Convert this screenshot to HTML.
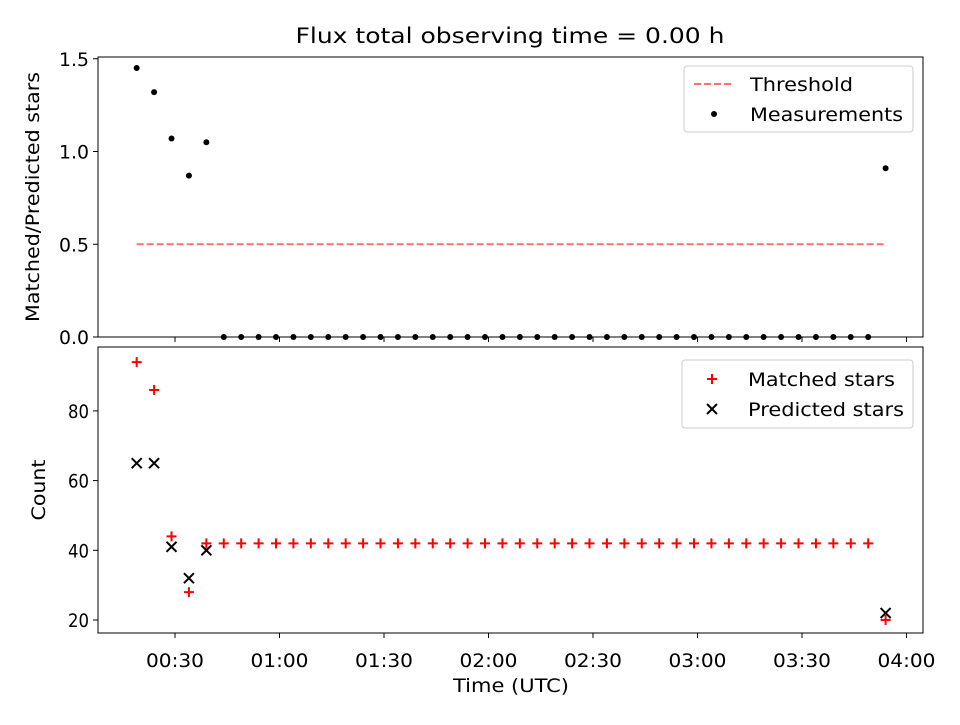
<!DOCTYPE html>
<html><head><meta charset="utf-8"><style>body{margin:0;background:#fff}svg{font-family:"DejaVu Sans","Liberation Sans",sans-serif}</style></head>
<body>
<svg id="c" width="960" height="720"></svg>
<script>
const times=[];for(let m=19;m<=234;m+=5)times.push(m);
const ratio=[1.45,1.32,1.07,0.87,1.05,0,0,0,0,0,0,0,0,0,0,0,0,0,0,0,0,0,0,0,0,0,0,0,0,0,0,0,0,0,0,0,0,0,0,0,0,0,0,0.91];
const matched=[94,86,44,28,42,42,42,42,42,42,42,42,42,42,42,42,42,42,42,42,42,42,42,42,42,42,42,42,42,42,42,42,42,42,42,42,42,42,42,42,42,42,42,20];
const predTimes=[19,24,29,34,39,234];
const predicted=[65,65,41,32,40,22];
const threshold=0.5;
const xTicks=[30,60,90,120,150,180,210,240];
const xLabels=["00:30","01:00","01:30","02:00","02:30","03:00","03:30","04:00"];
const topTicks=[0,0.5,1.0,1.5],topLabels=["0.0","0.5","1.0","1.5"];
const botTicks=[20,40,60,80];
const NS="http://www.w3.org/2000/svg",svg=document.getElementById('c');
function el(t,a,txt,p){const e=document.createElementNS(NS,t);for(const k in a)e.setAttribute(k,a[k]);if(txt!=null)e.textContent=txt;(p||svg).appendChild(e);return e;}
const X=m=>175+(m-30)*104.5/30;
const L=98,R=923,T1=57,B1=337,T2=347,B2=633;
const Y1=v=>337-v*185.5;
const Y2=v=>620-(v-20)*3.485;
el('text',{x:510,y:43,'text-anchor':'middle','font-size':21,textLength:429,lengthAdjust:'spacingAndGlyphs',},'Flux total observing time = 0.00 h');
const g1=el('g',{});
const th=el('line',{x1:X(19),x2:X(234),y1:Y1(threshold),y2:Y1(threshold),stroke:'#ff7070','stroke-width':2,'stroke-dasharray':'7,3'},null,g1);

times.forEach((t,i)=>{const c=el('circle',{cx:X(t),cy:Y1(ratio[i]),r:3,fill:'#000'},null,g1);});
el('rect',{x:L,y:T1,width:R-L,height:B1-T1,fill:'none',stroke:'#000','stroke-width':1},null,g1);
topTicks.forEach((v,i)=>{el('line',{x1:L-5,x2:L,y1:Y1(v),y2:Y1(v),stroke:'#000'},null,g1);const t=el('text',{x:L-9,y:Y1(v)+7,'text-anchor':'end','font-size':19,textLength:30,lengthAdjust:'spacingAndGlyphs'},topLabels[i],g1);});
xTicks.forEach(v=>el('line',{x1:X(v),x2:X(v),y1:B1,y2:B1+5,stroke:'#000'},null,g1));
el('text',{x:39,y:(T1+B1)/2,'text-anchor':'middle','font-size':19,textLength:250,lengthAdjust:'spacingAndGlyphs',transform:`rotate(-90 39 ${(T1+B1)/2})`,},'Matched/Predicted stars',g1);
const lg1=el('g',{});
el('rect',{x:684,y:66,width:229,height:66,rx:3,fill:'#fff',stroke:'#ccc'},null,lg1);
el('line',{x1:694,x2:734,y1:84,y2:84,stroke:'#ff7070','stroke-width':2,'stroke-dasharray':'7,3'},null,lg1);
el('text',{x:750,y:91,'font-size':19,textLength:103,lengthAdjust:'spacingAndGlyphs',},'Threshold',lg1);
el('circle',{cx:714,cy:114,r:3,fill:'#000'},null,lg1);
el('text',{x:750,y:121,'font-size':19,textLength:153,lengthAdjust:'spacingAndGlyphs',},'Measurements',lg1);
const g2=el('g',{});
function plus(x,y,c,p){el('path',{d:`M${x-5},${y}H${x+5}M${x},${y-5}V${y+5}`,stroke:c,'stroke-width':2},null,p);}
function cross(x,y,p){el('path',{d:`M${x-5},${y-5}L${x+5},${y+5}M${x-5},${y+5}L${x+5},${y-5}`,stroke:'#000','stroke-width':2},null,p);}
times.forEach((t,i)=>{const g=el('g',{},null,g2);plus(X(t),Y2(matched[i]),'#f00',g);});
predTimes.forEach((t,i)=>{const g=el('g',{},null,g2);cross(X(t),Y2(predicted[i]),g);});
el('rect',{x:L,y:T2,width:R-L,height:B2-T2,fill:'none',stroke:'#000'},null,g2);
botTicks.forEach(v=>{el('line',{x1:L-5,x2:L,y1:Y2(v),y2:Y2(v),stroke:'#000'},null,g2);const t=el('text',{x:L-9,y:Y2(v)+7,'text-anchor':'end','font-size':19,textLength:21,lengthAdjust:'spacingAndGlyphs'},String(v),g2);});
xTicks.forEach((v,i)=>{el('line',{x1:X(v),x2:X(v),y1:B2,y2:B2+5,stroke:'#000'},null,g2);const t=el('text',{x:X(v),y:B2+34,'text-anchor':'middle','font-size':19,textLength:58,lengthAdjust:'spacingAndGlyphs'},xLabels[i],g2);});
el('text',{x:511,y:692,'text-anchor':'middle','font-size':19,textLength:116,lengthAdjust:'spacingAndGlyphs',},'Time (UTC)',g2);
el('text',{x:45,y:(T2+B2)/2,'text-anchor':'middle','font-size':19,textLength:61,lengthAdjust:'spacingAndGlyphs',transform:`rotate(-90 45 ${(T2+B2)/2})`,},'Count',g2);
const lg2=el('g',{});
el('rect',{x:682,y:360,width:231,height:68,rx:3,fill:'#fff',stroke:'#ccc'},null,lg2);
plus(712,379,'#f00',lg2);
el('text',{x:748,y:386,'font-size':19,textLength:147,lengthAdjust:'spacingAndGlyphs',},'Matched stars',lg2);
cross(712,409,lg2);
el('text',{x:748,y:416,'font-size':19,textLength:156,lengthAdjust:'spacingAndGlyphs',},'Predicted stars',lg2);
</script>
</body></html>
